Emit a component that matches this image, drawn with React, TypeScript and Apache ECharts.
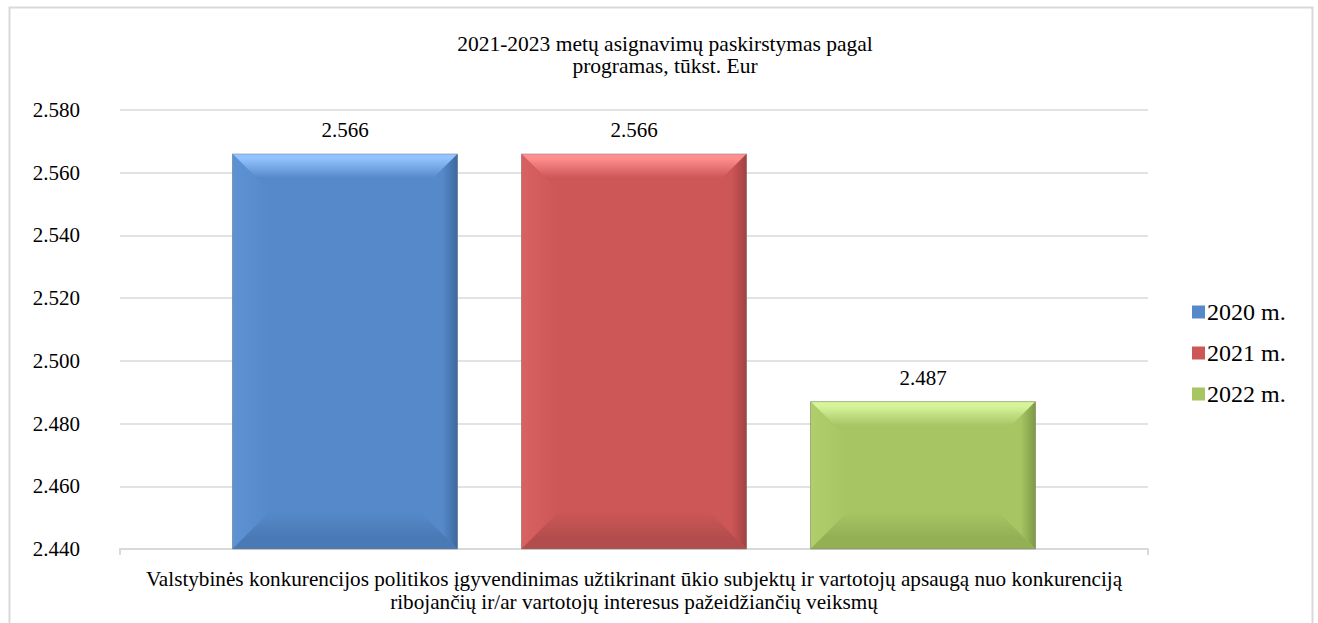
import React, { useEffect, useRef } from "react";
import * as echarts from "echarts";

const categories = [
  "Valstybinės konkurencijos politikos įgyvendinimas užtikrinant ūkio subjektų ir vartotojų apsaugą nuo konkurenciją\nribojančių ir/ar vartotojų interesus pažeidžiančių veiksmų",
];
const seriesNames = ["2020 m.", "2021 m.", "2022 m."];
const values2020 = [2566];
const values2021 = [2566];
const values2022 = [2487];
const yMin = 2440;
const yMax = 2580;
const yInterval = 20;
const titleText = "2021-2023 metų asignavimų paskirstymas pagal\nprogramas, tūkst. Eur";

const FONT = "'Liberation Serif', 'Times New Roman', serif";
const BAR_FRAC = 225 / 1028;
const GAP_FRAC = 64 / 1028;

const palettes = [
  { c: "#5689c9", top: "#92c2ff", left: "#5d92d4", right: "#3d68a0", bottom: "#4a7ab5" },
  { c: "#cd5656", top: "#ff8e8e", left: "#d86262", right: "#a14242", bottom: "#b34d4d" },
  { c: "#a7c563", top: "#d6f49a", left: "#b0cf6c", right: "#7d9947", bottom: "#93b055" },
];

const fmt = (v: number) => (v / 1000).toFixed(3);

function makeRender(i: number) {
  const p = palettes[i];
  return (params: any, api: any) => {
    const cs = params.coordSys;
    const val = api.value(1);
    const pt = api.coord([api.value(0), val]);
    const band = api.size([1, 0])[0];
    const w = band * BAR_FRAC;
    const gap = band * GAP_FRAC;
    const groupW = 3 * w + 2 * gap;
    const x0 = pt[0] - groupW / 2 + i * (w + gap);
    const x1 = x0 + w;
    const y0 = pt[1];
    const y1 = cs.y + cs.height;
    const b = Math.min(37, w / 2, (y1 - y0) / 2);
    const lin = (x: number, y: number, x2: number, y2: number, stops: any[]) => ({
      type: "linear",
      x,
      y,
      x2,
      y2,
      colorStops: stops.map((s) => ({ offset: s[0], color: s[1] })),
    });
    return {
      type: "group",
      children: [
        {
          type: "rect",
          shape: { x: x0, y: y0, width: w, height: y1 - y0 },
          style: { fill: p.c },
        },
        {
          type: "polygon",
          shape: { points: [[x0, y0], [x1, y0], [x1 - b, y0 + b], [x0 + b, y0 + b]] },
          style: { fill: lin(0, 0, 0, 1, [[0, p.top], [0.12, p.top], [0.65, p.c], [1, p.c]]) },
        },
        {
          type: "polygon",
          shape: { points: [[x0, y0], [x0 + b, y0 + b], [x0 + b, y1 - b], [x0, y1]] },
          style: { fill: lin(0, 0, 1, 0, [[0, p.left], [1, p.c]]) },
        },
        {
          type: "polygon",
          shape: { points: [[x1, y0], [x1, y1], [x1 - b, y1 - b], [x1 - b, y0 + b]] },
          style: { fill: lin(0, 0, 1, 0, [[0, p.c], [0.6, p.c], [1, p.right]]) },
        },
        {
          type: "polygon",
          shape: { points: [[x0, y1], [x1, y1], [x1 - b, y1 - b], [x0 + b, y1 - b]] },
          style: { fill: lin(0, 0, 0, 1, [[0, p.c], [0.7, p.bottom], [1, p.bottom]]) },
        },
        {
          type: "rect",
          shape: { x: x0, y: y0, width: w, height: y1 - y0 },
          style: { fill: "none", stroke: "rgba(120,120,120,0.45)", lineWidth: 1 },
        },
        {
          type: "text",
          x: (x0 + x1) / 2,
          y: y0 - 24,
          style: {
            text: fmt(val),
            fontFamily: FONT,
            fontSize: 21,
            fill: "#000",
            align: "center",
            verticalAlign: "middle",
          },
        },
      ],
    };
  };
}

const allValues = [values2020, values2021, values2022];

export default function App() {
  const ref = useRef<HTMLDivElement>(null);
  useEffect(() => {
    document.body.style.margin = "0";
    const chart = echarts.init(ref.current!, undefined, { renderer: "svg" });
    const option: any = {
      animation: false,
      backgroundColor: "#fff",
      color: palettes.map((p) => p.c),
      title: {
        text: titleText,
        left: 660,
        textAlign: "center",
        top: 28,
        textStyle: {
          fontFamily: FONT,
          fontSize: 21.5,
          fontWeight: "normal",
          color: "#000",
          lineHeight: 22,
        },
      },
      graphic: [
        {
          type: "rect",
          shape: { x: 9.5, y: 7.5, width: 1303, height: 640 },
          style: { fill: "none", stroke: "#d9d9d9", lineWidth: 2 },
          silent: true,
        },
      ],
      legend: {
        orient: "vertical",
        left: 1187,
        top: 295,
        itemWidth: 13,
        itemHeight: 13,
        itemGap: 17,
        icon: "rect",
        textStyle: { fontFamily: FONT, fontSize: 24, color: "#000", padding: [0, 0, 0, -3] },
        data: seriesNames,
      },
      grid: { left: 120, right: 170, top: 110, bottom: 74 },
      xAxis: {
        type: "category",
        data: categories,
        axisLine: { lineStyle: { color: "#d9d9d9", width: 2 } },
        axisTick: { show: true, length: 6, lineStyle: { color: "#d9d9d9", width: 2 } },
        axisLabel: {
          fontFamily: FONT,
          fontSize: 21.2,
          color: "#000",
          lineHeight: 23,
          margin: 18,
          interval: 0,
        },
      },
      yAxis: {
        type: "value",
        min: yMin,
        max: yMax,
        interval: yInterval,
        axisLine: { show: false },
        axisTick: { show: false },
        splitLine: { lineStyle: { color: "#d9d9d9", width: 1.5 } },
        axisLabel: {
          fontFamily: FONT,
          fontSize: 21,
          color: "#000",
          margin: 40,
          formatter: (v: number) => fmt(v),
        },
      },
      series: seriesNames.map((name, i) => ({
        type: "custom",
        name,
        itemStyle: { color: palettes[i].c },
        encode: { x: 0, y: 1 },
        data: allValues[i].map((v, k) => [k, v]),
        renderItem: makeRender(i),
      })),
    };
    chart.setOption(option);
    return () => chart.dispose();
  }, []);
  return (
    <div
      ref={ref}
      style={{ position: "absolute", left: 0, top: 0, width: 1318, height: 623 }}
    />
  );
}
